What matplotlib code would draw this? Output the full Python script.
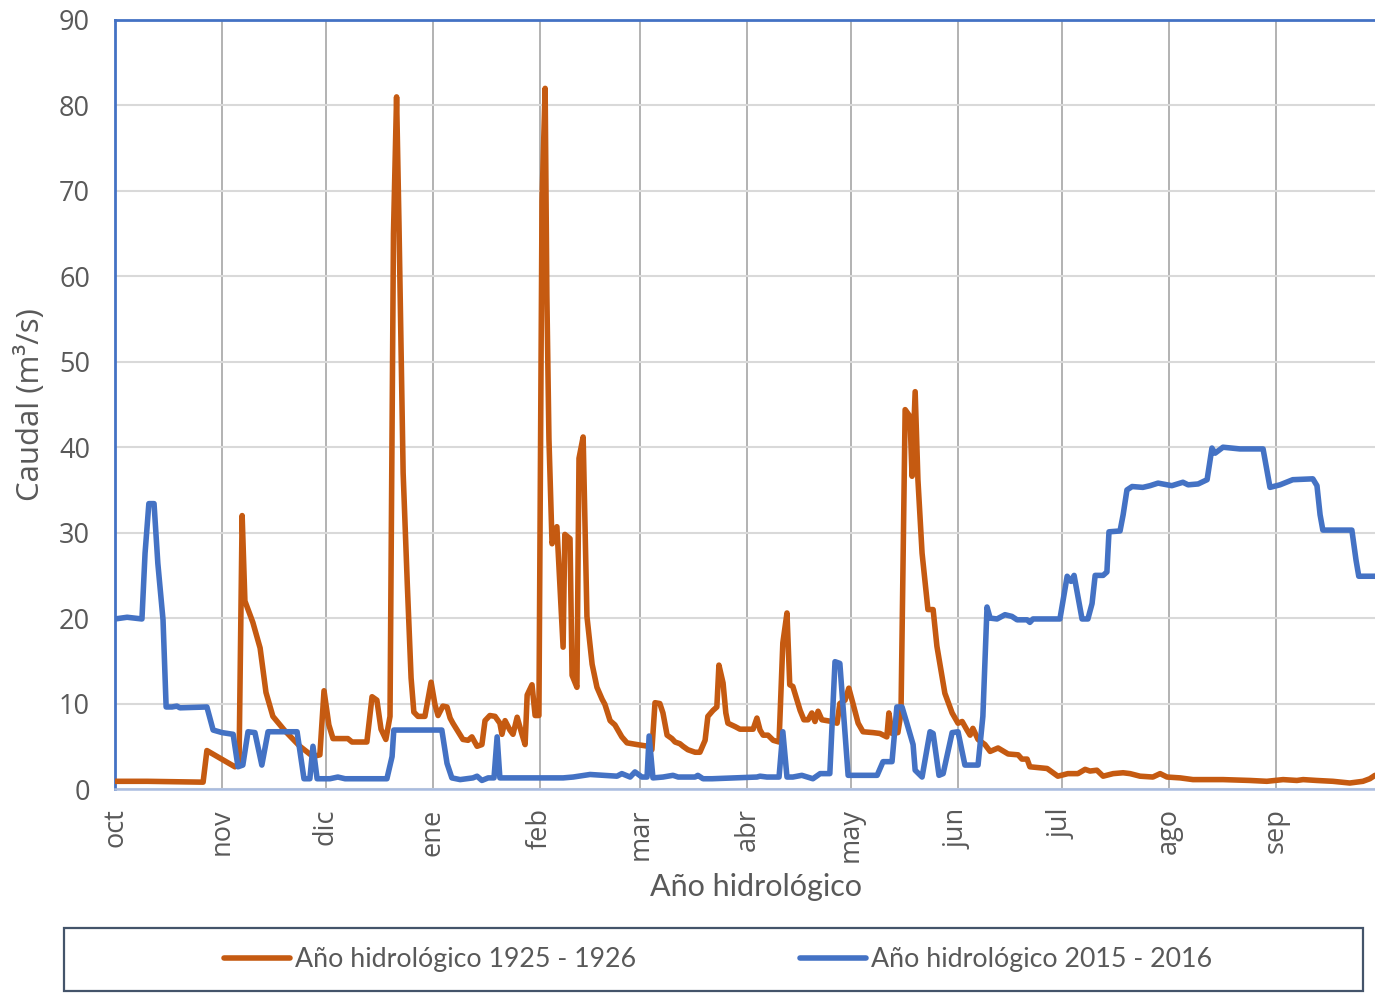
import matplotlib
matplotlib.use("Agg")
import matplotlib.pyplot as plt
from matplotlib.patches import Rectangle

# month starts (day of hydrological year, leap year)
month_days = [0, 31, 61, 92, 123, 152, 183, 213, 244, 274, 305, 336]
month_labels = ["oct", "nov", "dic", "ene", "feb", "mar", "abr", "may", "jun", "jul", "ago", "sep"]
y_ticks = [0, 10, 20, 30, 40, 50, 60, 70, 80, 90]

# Año hidrológico 1925 - 1926
day_1925 = [0.0, 9.3, 25.5, 26.6, 34.7, 35.9, 36.8, 37.6, 39.9, 42.0, 43.7, 45.7, 49.2, 53.5, 57.3, 59.3,
            60.5, 61.9, 63.1, 67.4, 68.6, 72.9, 74.4, 75.8, 77.0, 78.4, 79.6, 80.6, 81.5, 82.2, 83.4, 84.6,
            85.7, 86.5, 87.7, 89.7, 91.5, 92.6, 93.5, 94.9, 96.1, 97.0, 97.8, 100.7, 102.2, 103.3, 104.8,
            106.2, 107.1, 108.5, 110.0, 111.4, 112.0, 112.9, 114.3, 115.2, 116.4, 117.8, 118.7, 119.3,
            120.7, 121.6, 122.7, 123.6, 124.5, 125.0, 125.6, 126.5, 127.9, 129.7, 130.2, 131.7, 132.3,
            133.7, 134.3, 135.5, 136.6, 138.1, 139.5, 141.0, 141.8, 143.3, 144.7, 146.7, 148.2, 151.1,
            154.3, 155.4, 156.3, 157.7, 158.6, 159.8, 161.2, 162.1, 163.5, 164.4, 165.8, 167.9, 169.3,
            170.8, 171.6, 173.1, 174.2, 174.8, 176.0, 176.8, 177.4, 179.5, 180.9, 184.7, 185.8, 186.7,
            187.6, 189.0, 190.5, 192.2, 193.3, 194.5, 195.3, 196.2, 197.4, 198.3, 199.4, 200.6, 201.7,
            202.6, 203.5, 204.6, 207.5, 209.0, 209.8, 211.3, 212.4, 213.6, 215.1, 216.5, 219.4, 221.4,
            223.4, 224.0, 224.9, 226.6, 227.5, 228.7, 230.1, 230.7, 231.6, 232.4, 233.6, 235.3, 236.8,
            237.9, 240.2, 242.3, 244.0, 245.2, 246.6, 247.5, 248.3, 249.8, 251.8, 253.3, 255.6, 258.5,
            261.4, 262.5, 264.0, 264.8, 269.8, 272.9, 275.8, 278.7, 280.8, 282.2, 284.2, 286.0, 288.9,
            291.8, 293.8, 296.7, 300.4, 302.5, 304.5, 308.3, 312.0, 316.9, 320.7, 328.5, 333.4, 338.1,
            342.1, 343.9, 347.8, 352.5, 357.4, 361.2, 363.2, 364.7]
q_1925 = [0.9, 0.9, 0.8, 4.5, 2.6, 3.0, 32.0, 22.0, 19.5, 16.5, 11.3, 8.5, 6.8, 5.0, 3.8, 4.0,
          11.5, 7.5, 5.9, 5.9, 5.5, 5.5, 10.8, 10.4, 7.0, 5.8, 8.5, 65.0, 81.0, 66.0, 37.0, 24.0,
          13.0, 9.0, 8.5, 8.5, 12.5, 9.9, 8.6, 9.7, 9.6, 8.3, 7.7, 5.8, 5.7, 6.1, 5.0,
          5.2, 8.0, 8.6, 8.5, 7.7, 6.4, 8.0, 6.9, 6.4, 8.4, 6.4, 5.2, 11.0,
          12.2, 8.6, 8.6, 68.8, 82.0, 57.7, 41.0, 28.7, 30.7, 16.6, 29.8, 29.3, 13.3,
          11.9, 38.7, 41.2, 20.2, 14.6, 11.9, 10.5, 9.9, 8.0, 7.5, 6.1, 5.4, 5.2,
          5.0, 4.6, 10.1, 10.0, 8.9, 6.3, 5.9, 5.5, 5.3, 5.0, 4.6, 4.3, 4.3,
          5.7, 8.5, 9.2, 9.6, 14.5, 12.4, 8.9, 7.7, 7.3, 7.0, 7.0, 8.3, 6.9,
          6.3, 6.3, 5.7, 5.5, 17.1, 20.6, 12.2, 12.0, 10.4, 9.2, 8.1, 8.1, 8.9,
          7.9, 9.1, 8.1, 7.9, 7.7, 10.0, 10.4, 11.8, 10.0, 7.7, 6.7, 6.6, 6.5,
          6.1, 8.9, 6.5, 6.6, 8.9, 44.4, 43.6, 36.6, 46.5, 36.2, 27.6, 21.0, 21.0,
          16.7, 11.2, 8.9, 7.7, 7.9, 6.9, 6.3, 7.1, 5.8, 5.2, 4.4, 4.8, 4.1,
          4.0, 3.5, 3.5, 2.6, 2.4, 1.5, 1.8, 1.8, 2.3, 2.1, 2.2, 1.5, 1.8,
          1.9, 1.8, 1.5, 1.4, 1.8, 1.4, 1.3, 1.1, 1.1, 1.1, 1.0, 0.9, 1.1,
          1.0, 1.1, 1.0, 0.9, 0.7, 0.9, 1.2, 1.6]

# Año hidrológico 2015 - 2016
day_2015 = [0.0, 3.5, 7.8, 8.7, 9.8, 11.3, 12.4, 13.9, 14.8, 16.5, 17.9, 18.8, 26.6, 28.4, 31.0, 34.2,
            35.6, 37.0, 38.5, 40.5, 42.5, 44.3, 52.7, 54.7, 56.4, 57.3, 58.5, 62.2, 64.5, 66.6, 78.7,
            80.2, 80.7, 88.3, 94.6, 96.1, 97.5, 99.9, 103.6, 104.8, 106.2, 108.0, 109.7, 110.6, 111.4,
            129.7, 132.6, 137.5, 145.3, 146.7, 149.1, 150.5, 152.5, 154.0, 154.6, 155.7, 158.6, 161.5,
            163.0, 167.9, 168.7, 170.2, 172.8, 185.8, 186.7, 188.7, 192.2, 193.3, 194.5, 196.2, 198.8,
            202.0, 204.1, 206.9, 208.4, 209.8, 212.2, 220.6, 222.3, 224.9, 226.3, 227.8, 229.2, 231.0,
            231.6, 233.6, 235.9, 236.8, 238.5, 239.7, 242.3, 244.0, 246.0, 249.8, 251.2, 252.4, 253.3,
            255.3, 257.6, 259.6, 261.1, 264.0, 264.8, 265.7, 273.5, 275.6, 276.7, 277.6, 279.9, 281.6,
            282.8, 283.7, 286.0, 287.1, 287.7, 290.9, 291.8, 292.9, 294.4, 297.5, 299.6, 301.9, 305.9,
            309.1, 310.6, 313.5, 316.1, 317.5, 318.4, 320.7, 325.6, 332.3, 334.3, 337.2, 340.9, 346.7,
            347.9, 348.8, 349.6, 358.0, 359.2, 360.0, 364.7]
q_2015 = [19.9, 20.1, 19.9, 27.6, 33.4, 33.4, 26.4, 19.8, 9.6, 9.6, 9.7, 9.5, 9.6, 6.9, 6.6, 6.4,
          2.6, 2.8, 6.7, 6.6, 2.8, 6.7, 6.7, 1.2, 1.2, 5.0, 1.2, 1.2, 1.4, 1.2, 1.2,
          3.8, 6.9, 6.9, 6.9, 3.0, 1.3, 1.1, 1.3, 1.5, 1.0, 1.3, 1.3, 6.1, 1.3,
          1.3, 1.4, 1.7, 1.5, 1.8, 1.4, 2.0, 1.4, 1.4, 6.2, 1.3, 1.4, 1.6,
          1.4, 1.4, 1.6, 1.2, 1.2, 1.4, 1.5, 1.4, 1.4, 6.7, 1.4, 1.4, 1.6,
          1.2, 1.8, 1.8, 14.9, 14.7, 1.6, 1.6, 3.2, 3.2, 9.6, 9.6, 7.7, 5.2,
          2.2, 1.4, 6.7, 6.5, 1.6, 1.8, 6.6, 6.7, 2.8, 2.8, 8.5, 21.3, 20.0,
          19.9, 20.4, 20.2, 19.8, 19.8, 19.5, 19.9, 19.9, 24.9, 24.3, 25.0, 19.9, 19.9,
          21.7, 25.0, 25.0, 25.4, 30.1, 30.2, 32.1, 35.0, 35.4, 35.3, 35.5, 35.8, 35.5,
          35.9, 35.6, 35.7, 36.2, 39.9, 39.3, 40.0, 39.8, 39.8, 35.3, 35.6, 36.2, 36.3,
          35.5, 32.1, 30.3, 30.3, 26.8, 24.9, 24.9]

orange = "#C55A11"
blue = "#4472C4"
txt = "#595959"
tick_font = "Open Sans"
label_font = "Lato"

W, H = 1375, 993
fig = plt.figure(figsize=(W / 100, H / 100), dpi=100)
ax = fig.add_axes([115 / W, 1 - 789 / H, (1379.5 - 115) / W, (789 - 20) / H])

l1, = ax.plot(day_1925, q_1925, color=orange, lw=4.0, solid_joinstyle="round",
              solid_capstyle="round", label="Año hidrológico 1925 - 1926", zorder=3)
l2, = ax.plot(day_2015, q_2015, color=blue, lw=4.0, solid_joinstyle="round",
              solid_capstyle="round", label="Año hidrológico 2015 - 2016", zorder=4)

ax.set_xlim(0, 366)
ax.set_ylim(0, 90)
ax.set_xticks(month_days)
ax.set_xticklabels(month_labels, rotation=90, fontsize=19.5, color=txt, family=tick_font)
ax.set_yticks(y_ticks)
ax.set_yticklabels([str(v) for v in y_ticks], fontsize=19.5, color=txt, family=tick_font)
ax.tick_params(axis="x", length=0, pad=14)
ax.tick_params(axis="y", length=0, pad=18)

ax.grid(axis="y", color="#D9D9D9", lw=1.5, zorder=0)
ax.grid(axis="x", color="#A6A6A6", lw=1.2, zorder=0)
ax.set_axisbelow(True)

for s in ["left", "top", "right"]:
    ax.spines[s].set_color(blue)
    ax.spines[s].set_linewidth(2.0)
ax.spines["bottom"].set_color("#A9BCE0")
ax.spines["bottom"].set_linewidth(1.8)

fig.text(30 / W, 1 - 405 / H, "Caudal (m³/s)", rotation=90, ha="center", va="center",
         fontsize=22.5, color=txt, family=tick_font)
fig.text(756 / W, 1 - 887 / H, "Año hidrológico", ha="center", va="center",
         fontsize=22, color=txt, family=label_font)

# legend box
fig.patches.append(Rectangle((64 / W, 1 - 991 / H), (1363 - 64) / W, (991 - 928) / H,
                             transform=fig.transFigure, fill=False, edgecolor="#44546A", lw=1.6))
leg = fig.legend(handles=[l1, l2], loc="center", bbox_to_anchor=(718 / W, 1 - 960 / H),
                 ncol=2, frameon=False, prop={"family": label_font, "size": 19.3},
                 handlelength=2.46, handletextpad=0.19, columnspacing=6.1)
for t in leg.get_texts():
    t.set_color(txt)

fig.savefig("out.png", dpi=100)
